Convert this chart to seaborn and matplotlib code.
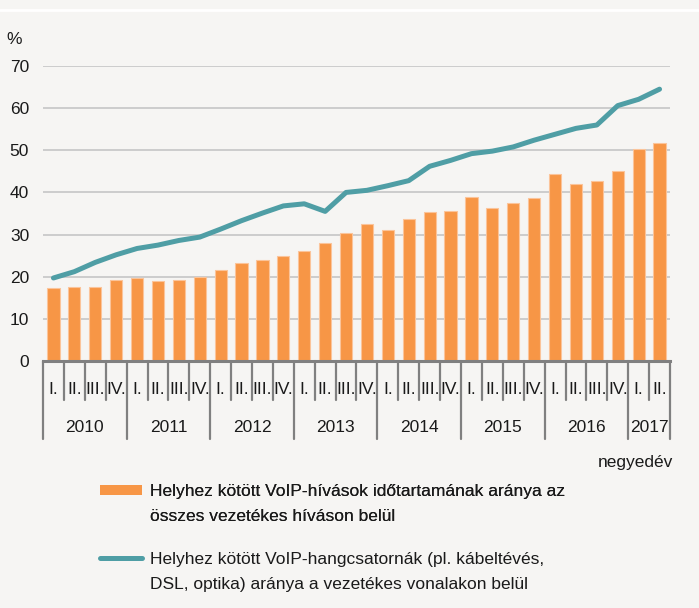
import matplotlib
matplotlib.use('Agg')
import matplotlib.pyplot as plt
import matplotlib.transforms as mtransforms
from matplotlib.patches import Patch
from matplotlib.lines import Line2D
import seaborn as sns
import pandas as pd

# ---- data ----
years = ['2010', '2011', '2012', '2013', '2014', '2015', '2016', '2017']
quarters_per_year = [4, 4, 4, 4, 4, 4, 4, 2]
quarter_names = ['I.', 'II.', 'III.', 'IV.']
voip_duration = [17.3, 17.5, 17.5, 19.2, 19.8, 19.0, 19.2, 20.0, 21.7, 23.3,
                 24.0, 25.0, 26.0, 28.0, 30.3, 32.5, 31.2, 33.6, 35.4, 35.6,
                 38.8, 36.2, 37.5, 38.6, 44.3, 41.9, 42.8, 45.0, 50.4, 51.7]
voip_lines = [19.7, 21.2, 23.4, 25.2, 26.7, 27.5, 28.6, 29.4, 31.3, 33.3,
              35.1, 36.8, 37.3, 35.5, 40.0, 40.5, 41.6, 42.8, 46.2, 47.6,
              49.2, 49.8, 50.8, 52.4, 53.8, 55.2, 56.0, 60.6, 62.1, 64.5]
yticks = [0, 10, 20, 30, 40, 50, 60, 70]
label_bar = 'Helyhez kötött VoIP-hívások időtartamának aránya az\nösszes vezetékes híváson belül'
label_line = 'Helyhez kötött VoIP-hangcsatornák (pl. kábeltévés,\nDSL, optika) aránya a vezetékes vonalakon belül'

periods, qlabels = [], []
for y, n in zip(years, quarters_per_year):
    for q in range(n):
        periods.append(f'{y} {quarter_names[q]}')
        qlabels.append(quarter_names[q])
df = pd.DataFrame({'period': periods, 'quarter': qlabels,
                   'duration': voip_duration, 'lines': voip_lines})
df['pos'] = range(len(df))

# ---- style ----
BG = '#f6f5f3'
ORANGE = '#f79646'
TEAL = '#4f9ea5'
GRID = '#c9c9c9'
AXC = '#808080'
sns.set_theme(style='white')
plt.rcParams['font.family'] = ['Liberation Sans', 'DejaVu Sans']
FS = 12.5
plt.rcParams['font.size'] = FS
TXT = '#1a1a1a'

fig = plt.figure(figsize=(6.99, 6.08), dpi=100, facecolor=BG)
W, H = 699, 608
ax = fig.add_axes([43 / W, 1 - 361 / H, (670 - 43) / W, (361 - 66) / H])
ax.set_facecolor(BG)

sns.barplot(data=df, x='period', y='duration', color=ORANGE, saturation=1,
            width=0.58, edgecolor='#fbc49a', linewidth=0.8, ax=ax, zorder=2)
sns.lineplot(data=df, x='pos', y='lines', color=TEAL, linewidth=3.6, ax=ax,
             zorder=3, solid_capstyle='round', clip_on=False)

ax.set_xlim(-0.5, len(df) - 0.5)
ax.set_ylim(0, 70)
ax.set_yticks(yticks)
ax.set_yticklabels([str(v) for v in yticks], fontsize=FS, color=TXT)
ax.tick_params(axis='y', length=0, pad=10)
ax.set_xticks([])
ax.set_xlabel('')
ax.set_ylabel('')
ax.grid(axis='y', color=GRID, linewidth=1.3)
ax.set_axisbelow(True)
for s in ['left', 'right', 'top']:
    ax.spines[s].set_visible(False)
ax.spines['bottom'].set_color(AXC)
ax.spines['bottom'].set_linewidth(2.2)
ax.spines['bottom'].set_zorder(4)

trans = mtransforms.blended_transform_factory(ax.transData, ax.transAxes)
ah = 361 - 66
q_sep = -(400 - 361) / ah
y_sep = -(439 - 361) / ah
q_lab = -(390 - 361) / ah
y_lab = -(428 - 361) / ah

year_bounds = [0]
for n in quarters_per_year:
    year_bounds.append(year_bounds[-1] + n)
for k in range(len(df) + 1):
    bottom = y_sep if k in year_bounds else q_sep
    ax.add_line(Line2D([k - 0.5, k - 0.5], [0, bottom], transform=trans,
                       color=AXC, linewidth=1.6, clip_on=False))
for i, q in enumerate(df['quarter']):
    ax.text(i, q_lab, q, transform=trans, ha='center', va='center',
            fontsize=FS, color=TXT)
for y, a, b in zip(years, year_bounds[:-1], year_bounds[1:]):
    ax.text((a + b - 1) / 2, y_lab, y, transform=trans, ha='center',
            va='center', fontsize=FS, color=TXT)

fig.text(14 / W, 1 - 39 / H, '%', ha='center', va='center', fontsize=FS, color=TXT)
fig.text(673 / W, 1 - 463 / H, 'negyedév', ha='right', va='center', fontsize=FS, color=TXT)
fig.add_artist(Line2D([0, 1], [1 - 10 / H, 1 - 10 / H], color='white', linewidth=2))

# ---- legends ----
blank = Patch(facecolor='none', edgecolor='none')
b1, b2 = label_bar.split('\n')
l1, l2 = label_line.split('\n')
common = dict(loc='upper left', frameon=False, fontsize=FS, handlelength=2.4,
              handleheight=0.5, handletextpad=0.5, labelspacing=0.56,
              borderpad=0, borderaxespad=0, labelcolor=TXT)
leg1 = fig.legend([Patch(facecolor=ORANGE, edgecolor='none'), blank], [b1, b2],
                  bbox_to_anchor=(100 / W, 1 - 484 / H), **common)
leg2 = fig.legend([Line2D([], [], color=TEAL, linewidth=3.6, solid_capstyle='round'), blank],
                  [l1, l2], bbox_to_anchor=(100 / W, 1 - 552 / H), **common)
fig.add_artist(leg1)

fig.savefig('out.png', dpi=100, facecolor=BG)
